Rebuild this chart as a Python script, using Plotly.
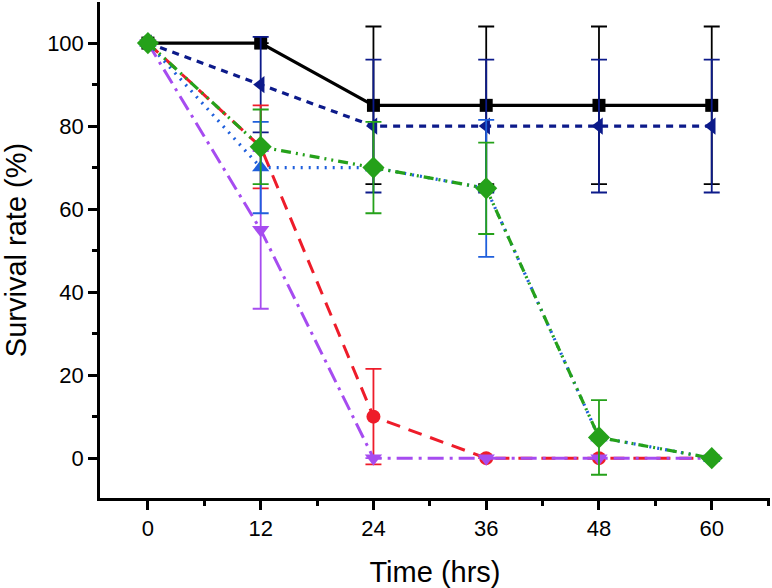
import plotly.graph_objects as go

hours = [0, 12, 24, 36, 48, 60]

black_y = [100, 100, 85, 85, 85, 85]
black_err = [None, None, 19, 19, 19, 19]

navy_y = [100, 90, 80, 80, 80, 80]
navy_err = [None, 11.5, 16, 16, 16, 16]

red_y = [100, 75, 10, 0, 0, 0]
red_err = [None, 10, 11.5, None, None, None]

violet_y = [100, 55, 0, 0, 0, 0]
violet_err = [None, 19, None, None, None, None]

blue_y = [100, 70, 70, 65, 5, 0]
blue_err = [None, 11, None, 16.5, None, None]

green_y = [100, 75, 70, 65, 5, 0]
green_err = [None, 9, 11, 11, 9, None]

series = [
    ("black", black_y, black_err, "#000000", "solid", "square", 13, 3.2),
    ("navy", navy_y, navy_err, "#0c1a8a", "7px,6px", "triangle-left", 15, 3.2),
    ("red", red_y, red_err, "#ee1c2a", "14px,9px", "circle", 14, 3),
    ("violet", violet_y, violet_err, "#a64cf0", "16px,6px,3px,6px", "triangle-down", 15, 3),
    ("blue", blue_y, blue_err, "#1f5fdc", "2px,6px", "triangle-up", 15, 3.2),
    ("green", green_y, green_err, "#25a11a", "10px,5px,2px,5px,2px,5px", "diamond", 17, 3.2),
]

fig = go.Figure()
for name, y, err, col, dash, sym, size, lw in series:
    fig.add_trace(go.Scatter(
        x=hours, y=y, name=name, mode="lines+markers",
        line=dict(color=col, width=lw, dash=dash),
        marker=dict(symbol=sym, size=size, color=col),
        error_y=dict(type="data", array=err, visible=True,
                     color=col, thickness=1.8, width=8),
    ))

font = "Liberation Sans, Arial, sans-serif"
tickfont = dict(family=font, size=22, color="#000")
titlefont = dict(family=font, size=29, color="#000")
fig.update_layout(
    width=772, height=588,
    margin=dict(l=100, r=2, t=2, b=90),
    plot_bgcolor="white", paper_bgcolor="white",
    showlegend=False,
    xaxis=dict(
        range=[-5.1, 66.2], tickmode="linear", tick0=0, dtick=12,
        ticks="outside", ticklen=9, tickwidth=2.5, tickcolor="#000",
        showline=True, linecolor="#000", linewidth=2.5,
        showgrid=False, zeroline=False, tickfont=tickfont, automargin=False,
        minor=dict(dtick=6, tick0=0, ticks="outside", ticklen=5, tickwidth=2.5,
                   tickcolor="#000", showgrid=False),
        title=dict(text="Time (hrs)", font=titlefont, standoff=22),
    ),
    yaxis=dict(
        range=[-9.6, 109.9], tickmode="linear", tick0=0, dtick=20,
        ticks="outside", ticklen=9, tickwidth=2.5, tickcolor="#000",
        showline=True, linecolor="#000", linewidth=2.5,
        showgrid=False, zeroline=False, tickfont=tickfont, automargin=False,
        minor=dict(dtick=10, tick0=0, ticks="outside", ticklen=5, tickwidth=2.5,
                   tickcolor="#000", showgrid=False),
        title=dict(text="Survival rate (%)", font=titlefont, standoff=28),
    ),
)

# the page adds an 8px body margin by default; drop it so the figure sits at (0, 0)
fig.write_html("out.html", config={"displayModeBar": False},
               post_script="document.body.style.margin='0px';")
